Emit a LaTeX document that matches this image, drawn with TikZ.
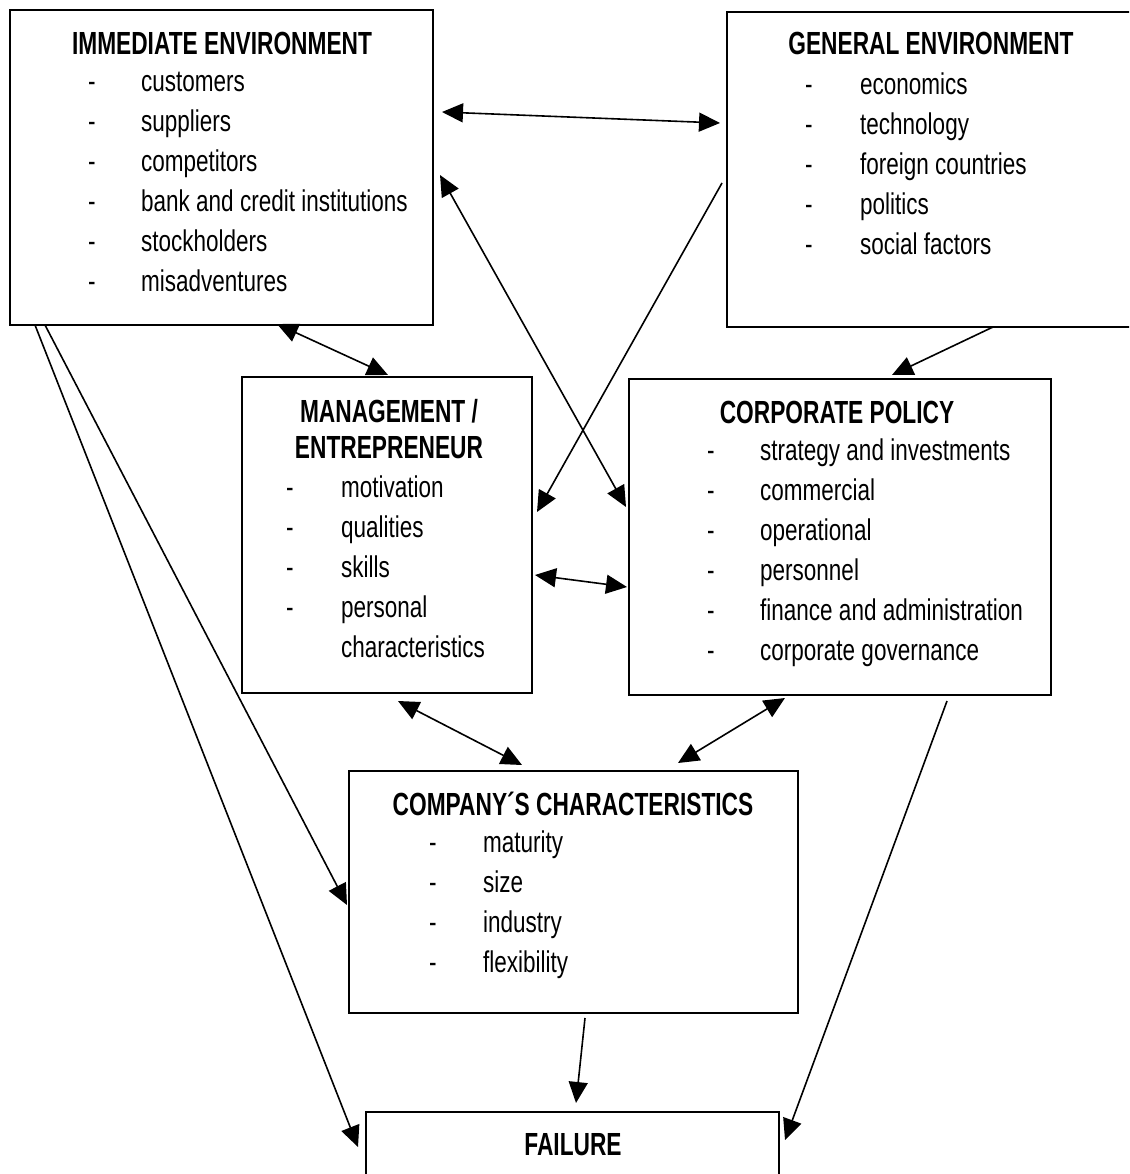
\documentclass[tikz,border=0pt]{standalone}
\usepackage{fontspec}
\setmainfont[FakeStretch=0.75]{Liberation Sans}
\newfontfamily\ttlfont[FakeStretch=0.71]{Liberation Sans}
\usetikzlibrary{arrows.meta,calc}
\newcommand\mydashlist[2]{\begin{tabular}[t]{@{}p{#1pt}@{}l@{}}#2\end{tabular}}
\tikzset{
  box/.style={draw, line width=1.6pt, anchor=north west, inner sep=0pt, outer sep=0pt},
  ttl/.style={font=\ttlfont\bfseries\fontsize{32}{36}\selectfont, anchor=base, inner sep=0pt},
  lst/.style={font=\fontsize{30}{40}\selectfont, anchor=base west, inner sep=0pt},
  tip/.tip={Triangle[length=21pt,width=19pt]},
  con/.style={line width=1.6pt, -tip},
  bicon/.style={line width=1.6pt, tip-tip},
}
\begin{document}
\begin{tikzpicture}[x=1pt,y=-1pt]
\clip (0,0) rectangle (1129,1174);
\fill[white] (0,0) rectangle (1129,1174);

% boxes
\node[box, minimum width=423pt, minimum height=315pt] (ie) at (10,10) {};
\node[box, minimum width=410pt, minimum height=315pt] (ge) at (727,12) {};
\node[box, minimum width=290pt, minimum height=316pt] (mg) at (242,377) {};
\node[box, minimum width=422pt, minimum height=316pt] (cp) at (629,379) {};
\node[box, minimum width=449pt, minimum height=242pt] (cc) at (349,771) {};
\node[box, minimum width=413pt, minimum height=80pt] (fa) at (366,1112) {};

% texts
\node[ttl] (ieT) at (222,55) {IMMEDIATE ENVIRONMENT};
\node[lst] (ieL) at (88,92) {\mydashlist{53}{- & customers\\ - & suppliers\\ - & competitors\\ - & bank and credit institutions\\ - & stockholders\\ - & misadventures}};

\node[ttl] (geT) at (931,55) {GENERAL ENVIRONMENT};
\node[lst] (geL) at (805,95) {\mydashlist{55}{- & economics\\ - & technology\\ - & foreign countries\\ - & politics\\ - & social factors}};

\node[ttl] (mgT1) at (389,422) {MANAGEMENT /};
\node[ttl] (mgT2) at (389,458) {ENTREPRENEUR};
\node[lst] (mgL) at (286,497) {\mydashlist{55}{- & motivation\\ - & qualities\\ - & skills\\ - & personal\\ & characteristics}};

\node[ttl] (cpT) at (837,423) {CORPORATE POLICY};
\node[lst] (cpL) at (707,460) {\mydashlist{53}{- & strategy and investments\\ - & commercial\\ - & operational\\ - & personnel\\ - & finance and administration\\ - & corporate governance}};

\node[ttl] (ccT) at (573,815) {COMPANY´S CHARACTERISTICS};
\node[lst] (ccL) at (429,852) {\mydashlist{54}{- & maturity\\ - & size\\ - & industry\\ - & flexibility}};

\node[ttl] (faT) at (573,1155) {FAILURE};

% connectors
\draw[bicon] ([shift={(9,102)}]ie.north east) -- ([shift={(-7,111)}]ge.north west);
\draw[bicon] ([shift={(7,165)}]ie.north east) -- ([shift={(-3,128)}]cp.north west);
\draw[con] ([shift={(-5,171)}]ge.north west) -- ([shift={(5,135)}]mg.north east);
\draw[con] ([shift={(266,0)}]ge.south west) -- ([shift={(263,-4)}]cp.north west);
\draw[bicon] ([shift={(267,-1)}]ie.south west) -- ([shift={(146,-2)}]mg.north west);
\draw[bicon] ([shift={(3,198)}]mg.north east) -- ([shift={(-2,208)}]cp.north west);
\draw[bicon] ([shift={(156,8)}]mg.south west) -- ([shift={(173,-6)}]cc.north west);
\draw[bicon] ([shift={(156,3)}]cp.south west) -- ([shift={(329,-8)}]cc.north west);
\draw[con] ([shift={(35,0)}]ie.south west) -- ([shift={(-2,134)}]cc.north west);
\draw[con] ([shift={(25,0)}]ie.south west) -- ([shift={(-8,35)}]fa.north west);
\draw[con] ([shift={(236,5)}]cc.south west) -- ([shift={(210,-9)}]fa.north west);
\draw[con] ([shift={(318,6)}]cp.south west) -- ([shift={(6,28)}]fa.north east);
\end{tikzpicture}
\end{document}
